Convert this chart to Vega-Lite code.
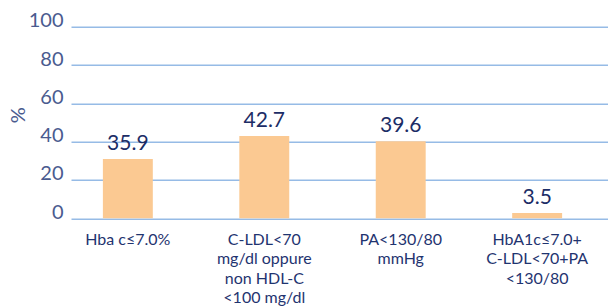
{
  "$schema": "https://vega.github.io/schema/vega-lite/v6.json",
  "width": 537,
  "height": 191.6,
  "autosize": "none",
  "padding": {"left": 71, "top": 26.7, "right": 0, "bottom": 87.7},
  "background": "white",
  "config": {
    "view": {"stroke": null},
    "font": "Lato"
  },
  "data": {
    "values": [
      {"cat": "Hba c≤7.0%", "bar": 31, "label": "35.9"},
      {"cat": "C-LDL<70\nmg/dl oppure\nnon HDL-C\n<100 mg/dl", "bar": 43, "label": "42.7"},
      {"cat": "PA<130/80\nmmHg", "bar": 40.2, "label": "39.6"},
      {"cat": "HbA1c≤7.0+\nC-LDL<70+PA\n<130/80", "bar": 2.8, "label": "3.5"}
    ]
  },
  "encoding": {
    "x": {
      "field": "cat",
      "type": "nominal",
      "sort": null,
      "scale": {"paddingInner": 0.634, "paddingOuter": 0.285, "align": 0.41},
      "axis": {
        "title": null,
        "labelAngle": 0,
        "labelExpr": "split(datum.label, '\\n')",
        "labelFont": "Lato",
        "labelFontSize": 16,
        "labelColor": "#1f3470",
        "labelLineHeight": 19.5,
        "labelPadding": 13,
        "labelBaseline": "top",
        "ticks": false,
        "domain": false,
        "grid": false
      }
    },
    "y": {
      "field": "bar",
      "type": "quantitative",
      "scale": {"domain": [0, 100], "nice": false},
      "axis": {
        "values": [0, 20, 40, 60, 80, 100],
        "title": "%",
        "titleFont": "Lato",
        "titleFontSize": 20,
        "titleFontWeight": "normal",
        "titleColor": "#4a5b8f",
        "titleAngle": -90,
        "titleX": -53,
        "titleY": 88,
        "titleAlign": "center",
        "titleBaseline": "middle",
        "labelFont": "Lato",
        "labelFontSize": 20,
        "labelFontWeight": "normal",
        "labelColor": "#4a5b8f",
        "labelBaseline": "alphabetic",
        "labelPadding": 8,
        "ticks": false,
        "domain": false,
        "grid": true,
        "gridColor": "#96bbe6",
        "gridWidth": 1.6,
        "gridOpacity": 1
      }
    }
  },
  "layer": [
    {"mark": {"type": "bar", "color": "#fbc992"}},
    {
      "mark": {"type": "text", "dy": -9, "baseline": "alphabetic", "align": "center", "font": "Lato", "fontSize": 21, "color": "#1c2d66"},
      "encoding": {"text": {"field": "label"}}
    }
  ]
}
